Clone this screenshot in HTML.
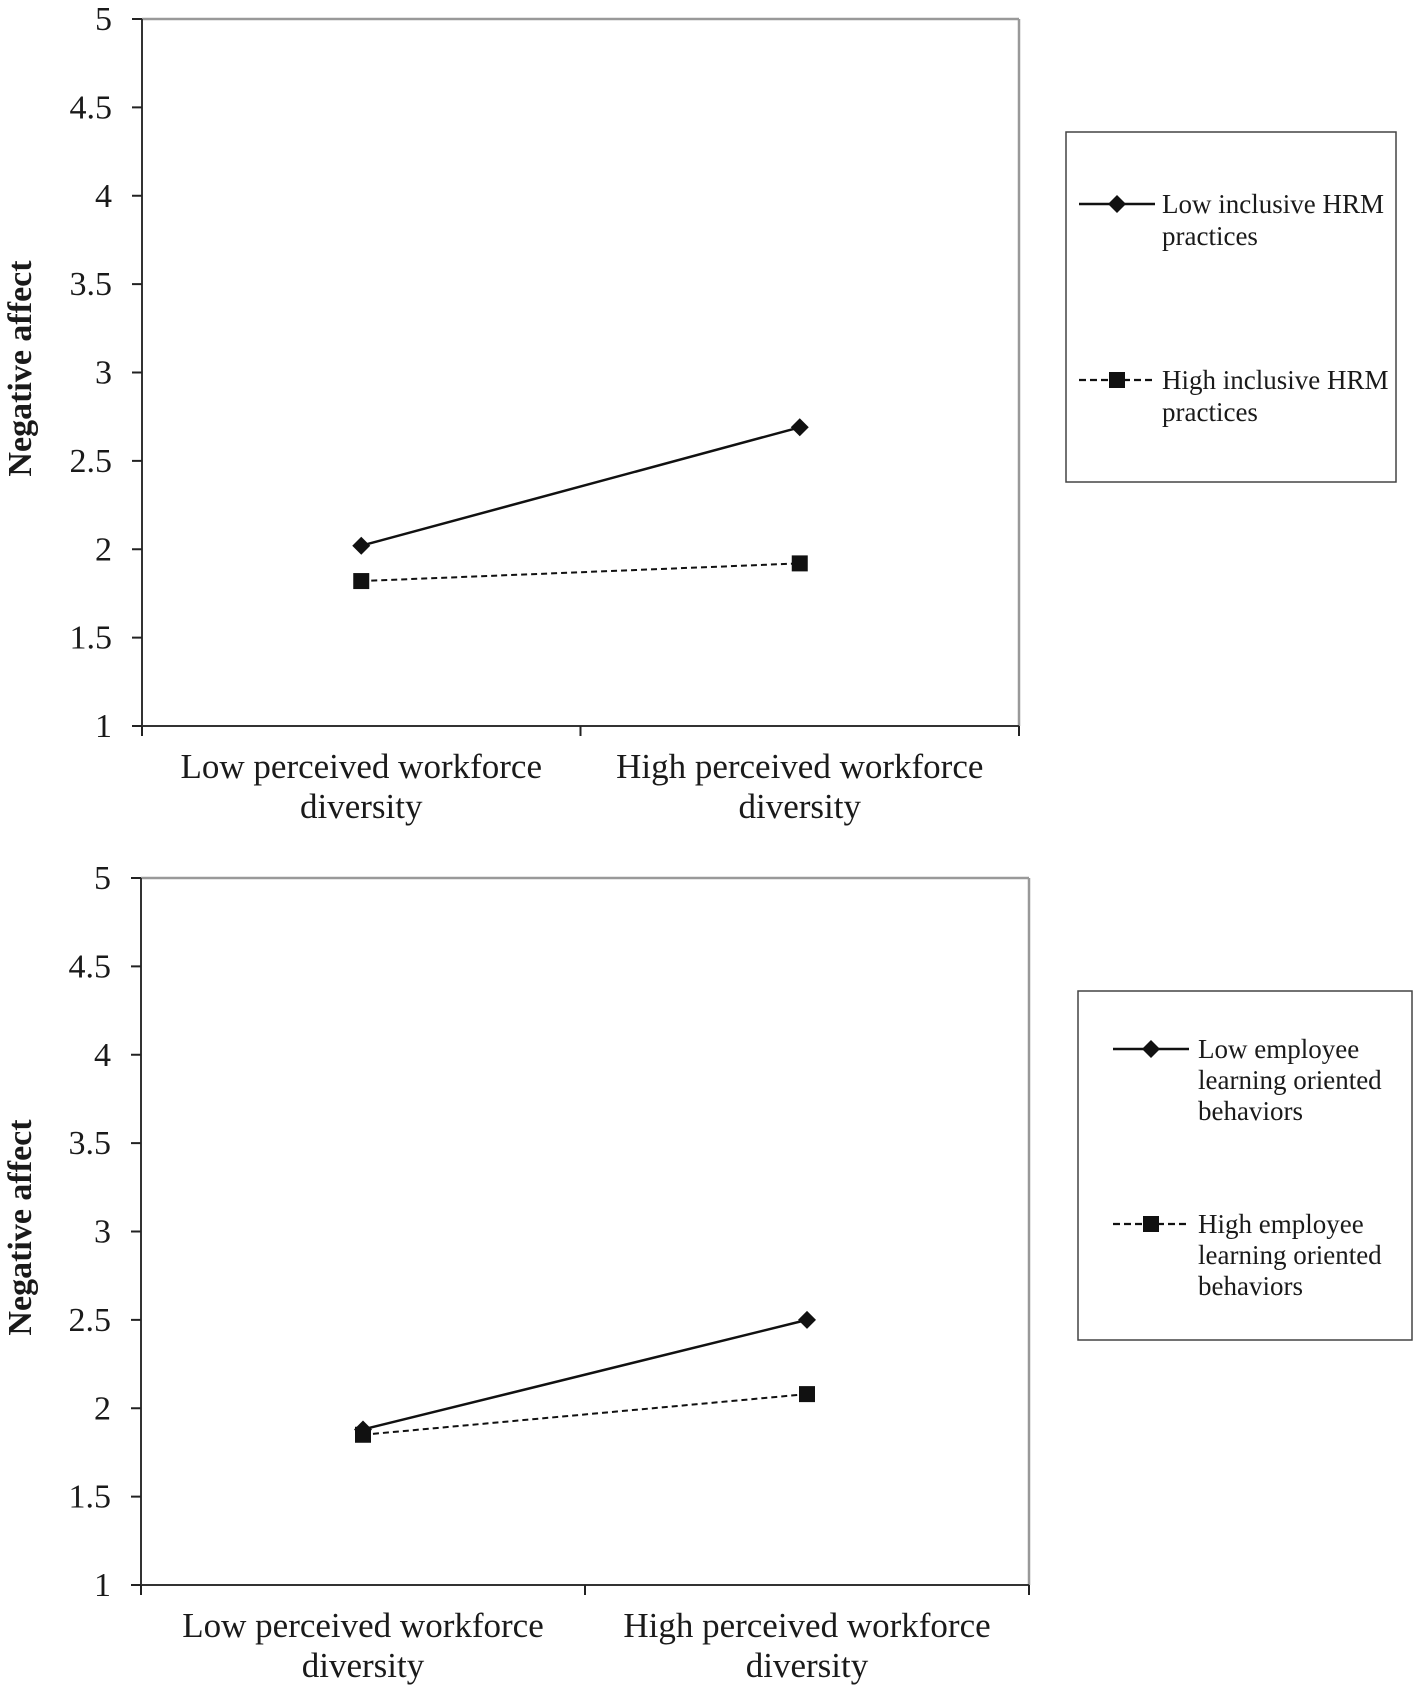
<!DOCTYPE html>
<html><head><meta charset="utf-8"><style>
html,body{margin:0;padding:0;background:#fff;}
svg{display:block;font-family:"Liberation Serif",serif;}
</style></head><body>
<svg id="chart" width="1421" height="1692" viewBox="0 0 1421 1692" xmlns="http://www.w3.org/2000/svg"></svg>
<script>
const yTicks = [1, 1.5, 2, 2.5, 3, 3.5, 4, 4.5, 5];
const yTickLabels = ["1", "1.5", "2", "2.5", "3", "3.5", "4", "4.5", "5"];
const categories = ["Low perceived workforce|diversity", "High perceived workforce|diversity"];
const top_lowHRM = [2.02, 2.69];
const top_highHRM = [1.82, 1.92];
const bot_lowLearn = [1.88, 2.50];
const bot_highLearn = [1.85, 2.08];
const top_legend = [["Low inclusive HRM", "practices"], ["High inclusive HRM", "practices"]];
const bot_legend = [["Low employee", "learning oriented", "behaviors"], ["High employee", "learning oriented", "behaviors"]];

const NS = "http://www.w3.org/2000/svg";
const svg = document.getElementById("chart");
function mk(tag, attrs, parent) {
  const e = document.createElementNS(NS, tag);
  for (const k in attrs) e.setAttribute(k, attrs[k]);
  (parent || svg).appendChild(e);
  return e;
}
function marker(g, kind, x, y) {
  if (kind === "diamond") {
    const m = mk("polygon", {points: `${x},${y-9} ${x+9},${y} ${x},${y+9} ${x-9},${y}`, fill: "#111"}, g);
    
    
  } else {
    const m = mk("rect", {x: x-8, y: y-8, width: 16, height: 16, fill: "#111"}, g);
    
    
  }
}
function chart(cfg) {
  const g = mk("g", {});
  
  
  const {L, R, T, B} = cfg;
  const yS = v => B - (v - 1) / 4 * (B - T);
  const bw = (R - L) / categories.length;
  const xS = i => L + bw * (i + 0.5);
  mk("line", {x1: L, y1: T, x2: R, y2: T, stroke: "#999", "stroke-width": 2.5}, g);
  mk("line", {x1: R, y1: T, x2: R, y2: B, stroke: "#999", "stroke-width": 2.5}, g);
  mk("line", {x1: L, y1: T, x2: L, y2: B, stroke: "#333", "stroke-width": 2}, g);
  mk("line", {x1: L, y1: B, x2: R, y2: B, stroke: "#333", "stroke-width": 2}, g);
  yTicks.forEach((v, i) => {
    mk("line", {x1: L - 10, y1: yS(v), x2: L, y2: yS(v), stroke: "#222", "stroke-width": 2}, g);
    const t = mk("text", {x: L - 30, y: yS(v) + 11, "text-anchor": "end", "font-size": 34, fill: "#1a1a1a"}, g);
    t.textContent = yTickLabels[i];
    
    
  });
  for (let i = 0; i <= categories.length; i++) {
    mk("line", {x1: L + bw * i, y1: B, x2: L + bw * i, y2: B + 10, stroke: "#222", "stroke-width": 2}, g);
  }
  categories.forEach((c, i) => {
    const lines = c.split("|");
    lines.forEach((ln, j) => {
      const t = mk("text", {x: xS(i), y: B + 52 + j * 40, "text-anchor": "middle", "font-size": 35, fill: "#1a1a1a"}, g);
      t.textContent = ln;
      
      
    });
  });
  const yt = mk("text", {x: 0, y: 0, transform: `translate(31,${(T + B) / 2 - 4}) rotate(-90)`, "text-anchor": "middle", "font-size": 34, "font-weight": "bold", fill: "#1a1a1a"}, g);
  yt.textContent = "Negative affect";
  
  
  cfg.series.forEach(s => {
    const sg = mk("g", {}, g);
    
    
    const pts = s.data.map((v, i) => `${xS(i)},${yS(v)}`).join(" ");
    mk("polyline", {points: pts, fill: "none", stroke: "#111", "stroke-width": s.dash ? 2 : 2.5, "stroke-dasharray": s.dash ? "6,4" : "none"}, sg);
    s.data.forEach((v, i) => marker(sg, s.marker, xS(i), yS(v)));
  });
  const lg = mk("g", {}, g);
  
  
  const Lg = cfg.legend;
  mk("rect", {x: Lg.x, y: Lg.y, width: Lg.w, height: Lg.h, fill: "#fff", stroke: "#444", "stroke-width": 1.5}, lg);
  cfg.series.forEach((s, k) => {
    const eg = mk("g", {}, lg);
    
    
    const y0 = Lg.ys[k];
    mk("line", {x1: Lg.lx1, y1: y0, x2: Lg.lx2, y2: y0, stroke: "#111", "stroke-width": s.dash ? 2.2 : 2.5, "stroke-dasharray": s.dash ? "7,4" : "none"}, eg);
    marker(eg, s.marker, (Lg.lx1 + Lg.lx2) / 2, y0);
    cfg.legendText[k].forEach((ln, j) => {
      const t = mk("text", {x: Lg.tx, y: y0 + 9 + j * Lg.lh, "font-size": 27, fill: "#1a1a1a"}, eg);
      t.textContent = ln;
    });
  });
}
chart({name: "top-chart", L: 142, R: 1019, T: 19, B: 726,
  series: [{name: "series-low-hrm", data: top_lowHRM, marker: "diamond", dash: false},
           {name: "series-high-hrm", data: top_highHRM, marker: "square", dash: true}],
  legend: {x: 1066, y: 132, w: 330, h: 350, ys: [204, 380], lx1: 1079, lx2: 1155, tx: 1162, lh: 32},
  legendText: top_legend});
chart({name: "bottom-chart", L: 141, R: 1029, T: 878, B: 1585,
  series: [{name: "series-low-learning", data: bot_lowLearn, marker: "diamond", dash: false},
           {name: "series-high-learning", data: bot_highLearn, marker: "square", dash: true}],
  legend: {x: 1078, y: 991, w: 334, h: 349, ys: [1049, 1224], lx1: 1113, lx2: 1189, tx: 1198, lh: 31},
  legendText: bot_legend});
</script>
</body></html>
